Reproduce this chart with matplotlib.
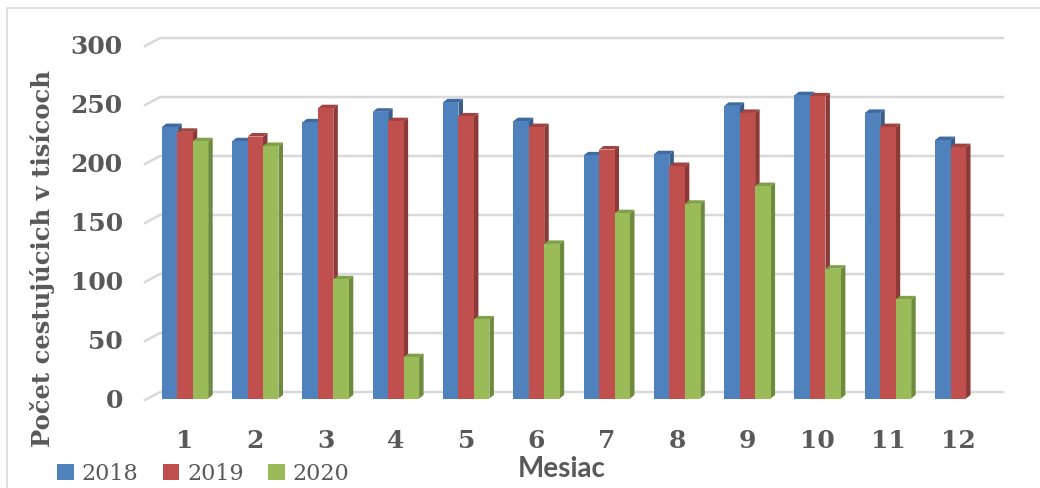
import matplotlib
matplotlib.use("Agg")
import matplotlib.pyplot as plt
from matplotlib.patches import Polygon, Patch
from matplotlib.lines import Line2D

months = list(range(1, 13))
years = ["2018", "2019", "2020"]
v2018 = [230, 218, 234, 243, 251, 235, 206, 207, 248, 257, 242, 219]
v2019 = [226, 222, 246, 235, 239, 230, 211, 197, 242, 256, 230, 213]
v2020 = [218, 214, 101, 35, 67, 131, 157, 165, 180, 110, 84]
yticks = [0, 50, 100, 150, 200, 250, 300]

front = ["#4F81BD", "#C0504D", "#9BBB59"]
side = ["#385D8A", "#8C3A38", "#6E8A3C"]
top = ["#3E6A9E", "#A14341", "#80A049"]
txt = "#595959"

W, H = 1040, 488
fig = plt.figure(figsize=(W / 100, H / 100), dpi=100)


def px(x0, y0, x1, y1):
    return [x0 / W, 1 - y1 / H, (x1 - x0) / W, (y1 - y0) / H]


ax = fig.add_axes(px(145, 30, 1003, 405))
xmin, xmax = 0.431, 12.636
ax.set_xlim(xmin, xmax)
ax.set_ylim(-5.5, 312.3)
for s in ax.spines.values():
    s.set_visible(False)

# back wall gridlines with slanted floor edge
for v in yticks:
    ax.plot([xmin, xmin + 0.213, xmax], [v - 1.3, v + 5.5, v + 5.5],
            color="#d9d9d9", lw=1.8, zorder=1, clip_on=False)

w = 0.22
dx, dy = 0.064, 3.0
series = [v2018, v2019, v2020]
for m_i, m in enumerate(months):
    for k, vals in enumerate(series):
        if m_i >= len(vals):
            continue
        v = vals[m_i]
        xc = m + (k - 1) * w
        z = 3 + m_i * 3 + k
        l, r = xc - w / 2, xc + w / 2
        ax.add_patch(Polygon([(r, 0), (r + dx, dy), (r + dx, v + dy), (r, v)],
                             closed=True, fc=side[k], ec="none", zorder=z))
        ax.add_patch(Polygon([(l, v), (l + dx, v + dy), (r + dx, v + dy), (r, v)],
                             closed=True, fc=top[k], ec="none", zorder=z))
        ax.bar(xc, v, width=w, color=front[k], edgecolor="none", zorder=z)

ax.set_xticks(months)
ax.set_xticklabels([str(m) for m in months])
ax.set_yticks(yticks)
ax.set_yticklabels([str(v) for v in yticks])
ax.tick_params(length=0)
ax.tick_params(axis="y", pad=16)
ax.tick_params(axis="x", pad=17)
for lab in ax.get_xticklabels() + ax.get_yticklabels():
    lab.set_fontfamily("DejaVu Serif")
    lab.set_fontweight("bold")
    lab.set_fontsize(18)
    lab.set_color(txt)

fig.text(43 / W, 1 - 259 / H, "Počet cestujúcich v tisícoch", rotation=90,
         ha="center", va="center", fontfamily="DejaVu Serif",
         fontweight="bold", fontsize=17.5, color=txt)
fig.text(562 / W, 1 - 469 / H, "Mesiac", ha="center", va="center",
         fontfamily="Lato", fontweight="bold", fontsize=20, color=txt)

handles = [Patch(facecolor=c, edgecolor="none") for c in front]
fig.legend(handles, years, loc="center left", bbox_to_anchor=(57 / W, 1 - 474 / H),
           ncol=3, frameon=False, handlelength=0.75, handleheight=0.75,
           handletextpad=0.35, columnspacing=1.1, borderpad=0, borderaxespad=0,
           prop={"family": "DejaVu Serif", "size": 16}, labelcolor=txt)

# light frame on left and top
fig.add_artist(Line2D([7 / W, 7 / W, 1], [0, 1 - 8 / H, 1 - 8 / H],
                      transform=fig.transFigure, color="#d9d9d9", lw=1.2))

fig.savefig("out.png", dpi=100)
